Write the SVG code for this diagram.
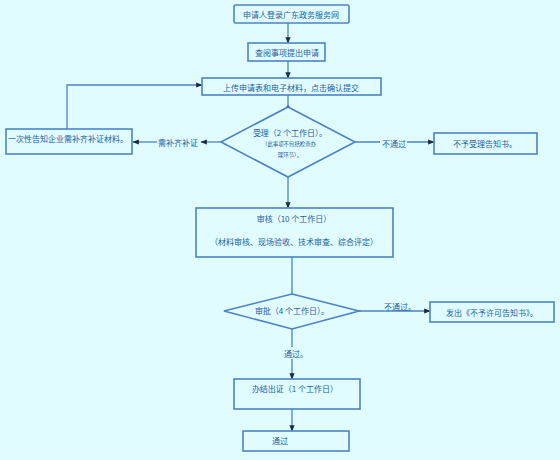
<svg xmlns="http://www.w3.org/2000/svg" width="560" height="460" viewBox="0 0 560 460">
<defs>
<marker id="arr" viewBox="0 0 10 10" refX="9" refY="5" markerWidth="5" markerHeight="5" orient="auto">
<path d="M0,1 L10,5 L0,9 z" fill="#1a2a44"/>
</marker>
<style>
.bx{fill:#e0fcff;stroke:#4a84c4;stroke-width:1.6}
.ln{fill:none;stroke:#4a84c4;stroke-width:1.3}
.t{font-family:"Noto Sans CJK SC","Liberation Sans",sans-serif;font-size:8px;fill:#1d5ea6;text-anchor:middle;dominant-baseline:central}
.s{font-size:5.4px}
.lb{fill:#e0fcff}
</style>
</defs>
<rect width="560" height="460" fill="#e0fcff"/>
<g id="connectors">
<path class="ln" d="M288,23 V43" marker-end="url(#arr)"/>
<path class="ln" d="M288,61 V78" marker-end="url(#arr)"/>
<path class="ln" d="M288,95 V107"/>
<circle cx="288" cy="107" r="1.5" fill="#1a2a44"/>
<path class="ln" d="M221,142 H201" marker-end="url(#arr)"/>
<path class="ln" d="M157,142 H133" marker-end="url(#arr)"/>
<text class="t" x="178" y="142">需补齐补证</text>
<path class="ln" d="M67,129 V85 H202" marker-end="url(#arr)"/>
<path class="ln" d="M355,142 H434" marker-end="url(#arr)"/>
<rect class="lb" x="380" y="136" width="27" height="12"/>
<text class="t" x="394" y="143">不通过</text>
<path class="ln" d="M288,177 V208" marker-end="url(#arr)"/>
<path class="ln" d="M292,257 V294"/>
<path class="ln" d="M359,311 H430" marker-end="url(#arr)"/>
<text class="t" x="400" y="306">不通过。</text>
<path class="ln" d="M292,329 V379" marker-end="url(#arr)"/>
<rect class="lb" x="284" y="347" width="22" height="12"/>
<text class="t" x="296" y="353">通过。</text>
<path class="ln" d="M292,409 V431" marker-end="url(#arr)"/>
</g>
<g id="n1"><rect class="bx" x="234" y="5" width="115" height="18" rx="1.5"/><text class="t" x="291" y="14">申请人登录广东政务服务网</text></g>
<g id="n2"><rect class="bx" x="248" y="43" width="77" height="18"/><text class="t" x="287" y="52">查阅事项提出申请</text></g>
<g id="n3"><rect class="bx" x="202" y="78" width="179" height="17"/><text class="t" x="291" y="87">上传申请表和电子材料，点击确认提交</text></g>
<g id="n4"><polygon class="bx" points="288,107 355,142 288,177 221,142"/>
<text class="t" x="290" y="132">受理（2 个工作日）。</text>
<text class="t s" x="289" y="144">（此事项不包括检查办</text>
<text class="t s" x="290" y="155">理环节）。</text></g>
<g id="n5"><rect class="bx" x="6" y="129" width="126" height="25"/><text class="t" x="68" y="138">一次性告知企业需补齐补证材料。</text></g>
<g id="n6"><rect class="bx" x="434" y="133" width="103" height="21"/><text class="t" x="485" y="143">不予受理告知书。</text></g>
<g id="n7"><rect class="bx" x="196" y="208" width="197" height="49"/>
<text class="t" x="294" y="218">审核（10 个工作日）</text>
<text class="t" x="294" y="241">（材料审核、现场验收、技术审查、综合评定）</text></g>
<g id="n8"><polygon class="bx" points="292,294 359,311 292,329 224,311"/><text class="t" x="292" y="310">审批（4 个工作日）。</text></g>
<g id="n9"><rect class="bx" x="430" y="302" width="124" height="20"/><text class="t" x="492" y="312">发出《不予许可告知书》。</text></g>
<g id="n10"><rect class="bx" x="234" y="379" width="126" height="30"/><text class="t" x="295" y="388">办结出证（1 个工作日）</text></g>
<g id="n11"><rect class="bx" x="243" y="431" width="106" height="20"/><text class="t" x="280" y="440">通过</text></g>
</svg>
